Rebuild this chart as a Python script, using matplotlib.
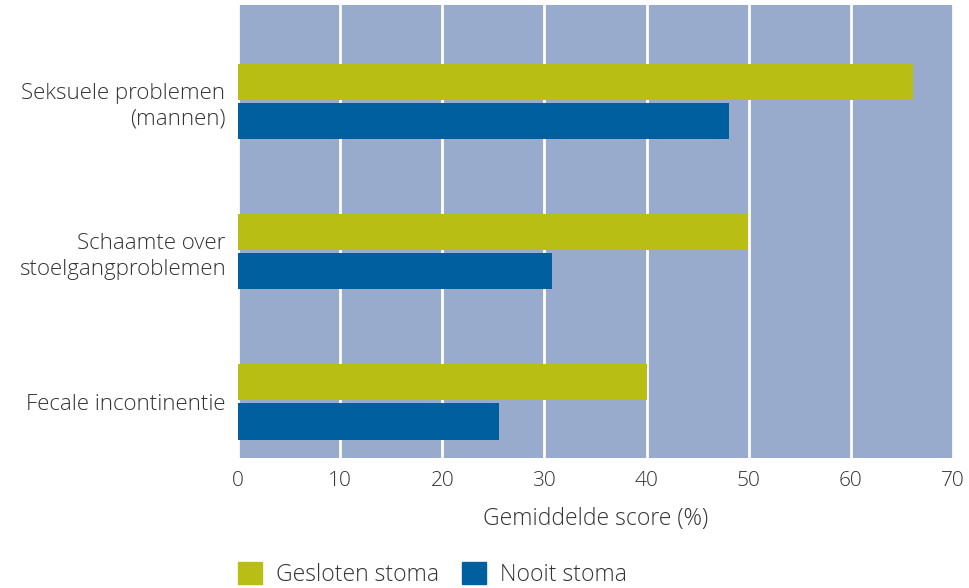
import numpy as np
import matplotlib.pyplot as plt
from matplotlib.patches import Patch

categories = ['Seksuele problemen\n(mannen)', 'Schaamte over\nstoelgangproblemen', 'Fecale incontinentie']
gesloten = [66.1, 49.9, 40.0]
nooit = [48.1, 30.7, 25.6]
series_names = ['Gesloten stoma', 'Nooit stoma']

green = '#B9BE14'
blue = '#005F9E'
bg = '#99ABCD'
txt = '#333333'

plt.rcParams['font.family'] = ['Open Sans', 'DejaVu Sans']

fig = plt.figure(figsize=(9.7, 5.88), dpi=100)
ax = fig.add_axes([238 / 970, 1 - 458 / 588, (953 - 238) / 970, (458 - 5) / 588])
ax.set_facecolor(bg)

y = np.arange(len(categories))
h = 0.24
ax.barh(y - h / 2 - 0.01, gesloten, height=h, color=green, zorder=3)
ax.barh(y + h / 2 + 0.01, nooit, height=h, color=blue, zorder=3)

ax.set_xlim(0, 70)
ax.set_ylim(2.373, -0.64)
ax.set_xticks(np.arange(0, 71, 10))
ax.xaxis.grid(True, color='white', linewidth=2, zorder=1)
ax.set_axisbelow(True)
for s in ax.spines.values():
    s.set_visible(False)

ax.set_yticks(y)
ax.set_yticklabels(categories, fontsize=16, color=txt, fontweight='light', ha='right', linespacing=1.3)
ax.tick_params(axis='y', length=0, pad=9)
ax.tick_params(axis='x', length=0, pad=9, labelsize=15, labelcolor=txt)
for lbl in ax.get_xticklabels():
    lbl.set_fontweight('light')
ax.set_xlabel('Gemiddelde score (%)', fontsize=16.5, color=txt, fontweight='light', labelpad=12)

handles = [Patch(color=green), Patch(color=blue)]
leg = fig.legend(handles, series_names, loc='lower left', bbox_to_anchor=(229 / 970, -0.014),
                 ncol=2, frameon=False, fontsize=16.5, handlelength=1.05, handleheight=1.1,
                 handletextpad=0.6, columnspacing=1.0, borderaxespad=0)
for t in leg.get_texts():
    t.set_color(txt)
    t.set_fontweight('light')

fig.savefig('out.png', dpi=100)
